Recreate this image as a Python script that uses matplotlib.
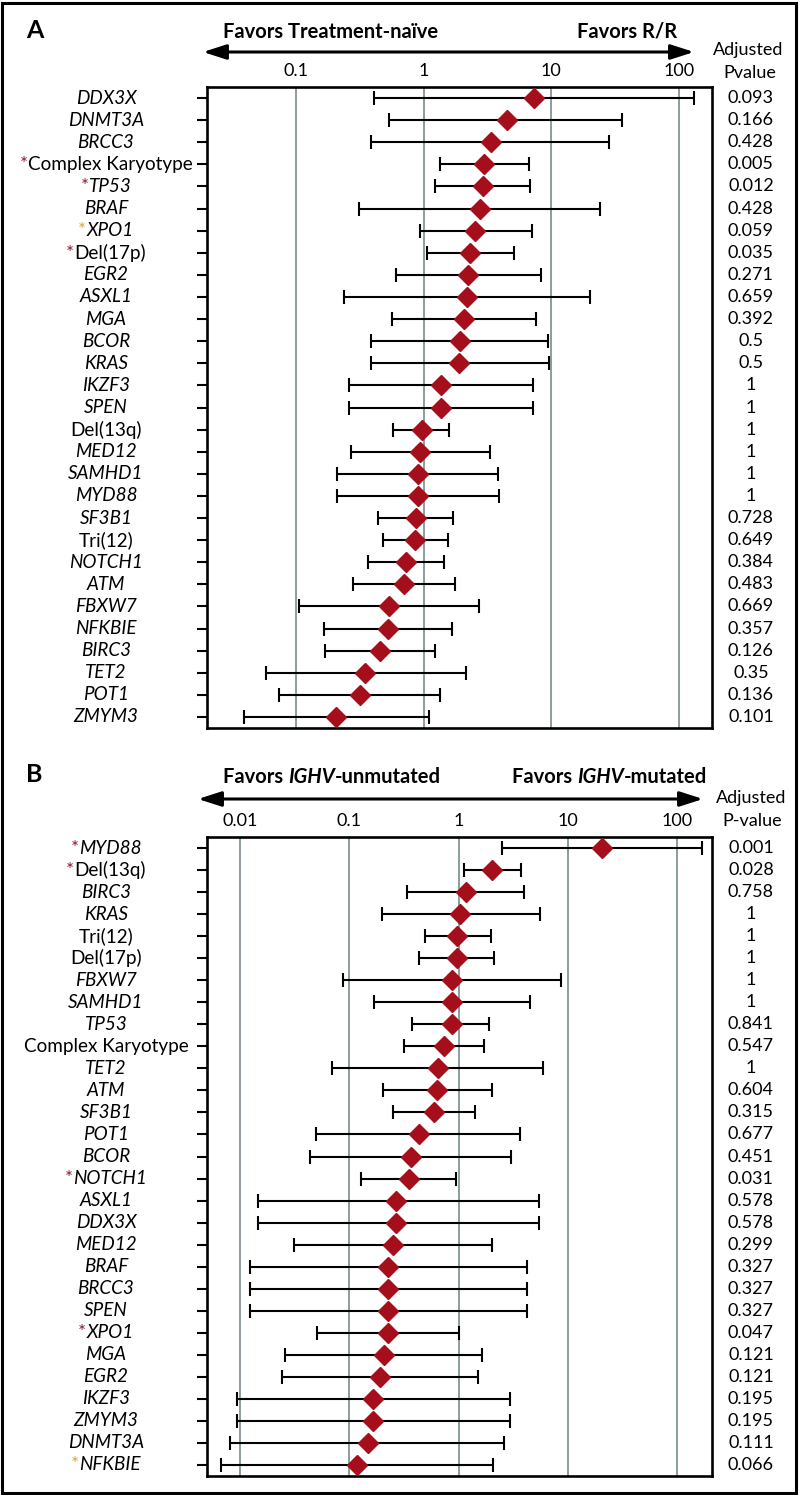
import numpy as np
import matplotlib
matplotlib.use("Agg")
import matplotlib.pyplot as plt
from matplotlib.patches import Rectangle

plt.rcParams['font.family'] = ['Lato', 'DejaVu Sans']

# ---- panel A: treatment-naive vs R/R ----
a_names = ["DDX3X", "DNMT3A", "BRCC3", "Complex Karyotype", "TP53", "BRAF", "XPO1",
           "Del(17p)", "EGR2", "ASXL1", "MGA", "BCOR", "KRAS", "IKZF3", "SPEN",
           "Del(13q)", "MED12", "SAMHD1", "MYD88", "SF3B1", "Tri(12)", "NOTCH1",
           "ATM", "FBXW7", "NFKBIE", "BIRC3", "TET2", "POT1", "ZMYM3"]
a_star = ["", "", "", "r", "r", "", "o", "r", "", "", "", "", "", "", "",
          "", "", "", "", "", "", "", "", "", "", "", "", "", ""]
a_or = [7.27, 4.47, 3.35, 2.99, 2.90, 2.78, 2.54, 2.32, 2.22, 2.18, 2.06, 1.94, 1.91,
        1.37, 1.37, 0.97, 0.94, 0.90, 0.90, 0.87, 0.85, 0.73, 0.70, 0.54, 0.53,
        0.46, 0.35, 0.32, 0.205]
a_lo = [0.41, 0.54, 0.39, 1.35, 1.22, 0.31, 0.93, 1.06, 0.61, 0.24, 0.565, 0.39, 0.39,
        0.26, 0.26, 0.58, 0.27, 0.21, 0.21, 0.44, 0.48, 0.37, 0.28, 0.106, 0.165,
        0.17, 0.058, 0.074, 0.039]
a_hi = [130, 35.6, 28.1, 6.64, 6.85, 24.2, 7.05, 5.13, 8.3, 20.2, 7.57, 9.5, 9.6,
        7.18, 7.18, 1.57, 3.33, 3.81, 3.87, 1.70, 1.55, 1.45, 1.75, 2.7, 1.67,
        1.22, 2.16, 1.35, 1.11]
a_p = ["0.093", "0.166", "0.428", "0.005", "0.012", "0.428", "0.059", "0.035", "0.271",
       "0.659", "0.392", "0.5", "0.5", "1", "1", "1", "1", "1", "1", "0.728", "0.649",
       "0.384", "0.483", "0.669", "0.357", "0.126", "0.35", "0.136", "0.101"]
a_ticks = [0.1, 1, 10, 100]
a_ticklabels = ["0.1", "1", "10", "100"]

# ---- panel B: IGHV-unmutated vs IGHV-mutated ----
b_names = ["MYD88", "Del(13q)", "BIRC3", "KRAS", "Tri(12)", "Del(17p)", "FBXW7", "SAMHD1",
           "TP53", "Complex Karyotype", "TET2", "ATM", "SF3B1", "POT1", "BCOR", "NOTCH1",
           "ASXL1", "DDX3X", "MED12", "BRAF", "BRCC3", "SPEN", "XPO1", "MGA", "EGR2",
           "IKZF3", "ZMYM3", "DNMT3A", "NFKBIE"]
b_star = ["r", "r", "", "", "", "", "", "", "", "", "", "", "", "", "", "r",
          "", "", "", "", "", "", "r", "", "", "", "", "", "o"]
b_or = [20.5, 2.02, 1.16, 1.03, 0.97, 0.96, 0.86, 0.86, 0.86, 0.74, 0.65, 0.63, 0.60,
        0.435, 0.366, 0.348, 0.267, 0.267, 0.249, 0.228, 0.228, 0.228, 0.228, 0.208,
        0.192, 0.165, 0.165, 0.147, 0.117]
b_lo = [2.48, 1.13, 0.34, 0.20, 0.49, 0.435, 0.088, 0.169, 0.378, 0.317, 0.070, 0.204,
        0.249, 0.050, 0.044, 0.129, 0.0147, 0.0147, 0.031, 0.0123, 0.0123, 0.0123,
        0.051, 0.026, 0.024, 0.0094, 0.0094, 0.0081, 0.0067]
b_hi = [168, 3.68, 3.97, 5.56, 1.97, 2.11, 8.65, 4.47, 1.90, 1.71, 5.92, 2.01, 1.41,
        3.63, 3.04, 0.94, 5.44, 5.44, 2.01, 4.25, 4.25, 4.25, 1.0, 1.62, 1.49, 2.96,
        2.96, 2.57, 2.04]
b_p = ["0.001", "0.028", "0.758", "1", "1", "1", "1", "1", "0.841", "0.547", "1", "0.604",
       "0.315", "0.677", "0.451", "0.031", "0.578", "0.578", "0.299", "0.327", "0.327",
       "0.327", "0.047", "0.121", "0.121", "0.195", "0.195", "0.111", "0.066"]
b_ticks = [0.01, 0.1, 1, 10, 100]
b_ticklabels = ["0.01", "0.1", "1", "10", "100"]

upright = {"Complex Karyotype", "Del(17p)", "Del(13q)", "Tri(12)"}
star_colors = {"r": "#8e1b2c", "o": "#e0a33a"}
red = "#a50f1c"
grid_col = "#8c9d9d"
fs = 13
lfs = 13.6
hfs = 14.5

W, H = 800, 1495
fig = plt.figure(figsize=(W / 100, H / 100), dpi=100)


def px(x, y):
    return x / W, 1 - y / H


def draw_panel(ax, names, stars, ors, lo, hi, pvals, xlim, ticks, ticklabels):
    ors = np.array(ors)
    lo = np.array(lo)
    hi = np.array(hi)
    y = np.arange(len(names))
    ax.set_xscale('log')
    ax.set_xlim(*xlim)
    ax.set_ylim(len(names) - 0.5, -0.5)
    ax.set_xticks(ticks)
    ax.set_xticklabels(ticklabels)
    ax.xaxis.set_minor_locator(matplotlib.ticker.NullLocator())
    ax.xaxis.tick_top()
    ax.tick_params(axis='x', length=0, pad=6, labelsize=fs)
    ax.set_yticks(y)
    ax.set_yticklabels([])
    ax.tick_params(axis='y', length=7, width=1.5, direction='out')
    ax.grid(axis='x', color=grid_col, lw=1.4)
    ax.set_axisbelow(True)
    for s in ax.spines.values():
        s.set_linewidth(1.9)

    ax.errorbar(ors, y, xerr=[ors - lo, hi - ors], fmt='none', ecolor='black',
                elinewidth=1.5, capsize=5, capthick=1.5, zorder=2)
    ax.plot(ors, y, 'D', ms=10, color=red, mec=red, zorder=3)

    tr = ax.get_yaxis_transform()
    for i, (name, st, p) in enumerate(zip(names, stars, pvals)):
        style = 'normal' if name in upright else 'italic'
        shift = 0.008 if st else 0.0
        t = ax.text(-0.2 + shift, i, name, transform=tr, ha='center', va='center',
                    fontsize=lfs, style=style)
        if st:
            ax.annotate('*', xy=(0, 0), xycoords=t, ha='right', va='bottom',
                        fontsize=lfs, color=star_colors[st], annotation_clip=False)
        ax.text(1.077, i, p, transform=tr, ha='center', va='center', fontsize=fs)


# panel A axes: box 207..712 x 87..728 px
axA = fig.add_axes([207 / W, 1 - 728 / H, 505 / W, 641 / H])
draw_panel(axA, a_names, a_star, a_or, a_lo, a_hi, a_p, (0.0202, 181),
           a_ticks, a_ticklabels)

# panel B axes: box 207..712 x 837..1476 px
axB = fig.add_axes([207 / W, 1 - 1476 / H, 505 / W, 639 / H])
draw_panel(axB, b_names, b_star, b_or, b_lo, b_hi, b_p, (0.005, 207),
           b_ticks, b_ticklabels)

# headers
arrow = dict(arrowstyle='<|-|>,head_length=1.4,head_width=0.45', lw=2.2,
             color='black', shrinkA=0, shrinkB=0)

fig.text(*px(26, 30), "A", fontsize=18, weight='bold', va='center', ha='left')
fig.text(*px(223, 32), "Favors Treatment-naïve", fontsize=hfs, weight='bold',
         va='center', ha='left')
fig.text(*px(577, 32), "Favors R/R", fontsize=hfs, weight='bold', va='center', ha='left')
axA.annotate('', xy=px(694, 52), xytext=px(203, 52), xycoords='figure fraction',
             arrowprops=arrow, annotation_clip=False)
fig.text(*px(748, 50), "Adjusted", fontsize=fs, ha='center', va='center')
fig.text(*px(750, 73), "Pvalue", fontsize=fs, ha='center', va='center')

fig.text(*px(26, 775), "B", fontsize=18, weight='bold', va='center', ha='left')
for x0, rest in [(223, "-unmutated"), (512, "-mutated")]:
    t1 = fig.text(*px(x0, 777), "Favors ", fontsize=hfs, weight='bold',
                  va='center', ha='left')
    t2 = axB.annotate("IGHV", xy=(1, 0), xycoords=t1, ha='left', va='bottom',
                      fontsize=hfs, weight='bold', style='italic', annotation_clip=False)
    axB.annotate(rest, xy=(1, 0), xycoords=t2, ha='left', va='bottom',
                 fontsize=hfs, weight='bold', annotation_clip=False)
axB.annotate('', xy=px(703, 799), xytext=px(198, 799), xycoords='figure fraction',
             arrowprops=arrow, annotation_clip=False)
fig.text(*px(751, 798), "Adjusted", fontsize=fs, ha='center', va='center')
fig.text(*px(752, 821), "P-value", fontsize=fs, ha='center', va='center')

# outer frame
fig.patches.append(Rectangle((2 / W, 2 / H), 794 / W, 1490 / H, transform=fig.transFigure,
                             fill=False, lw=2.2, ec='black'))

fig.savefig("out.png", dpi=100)
